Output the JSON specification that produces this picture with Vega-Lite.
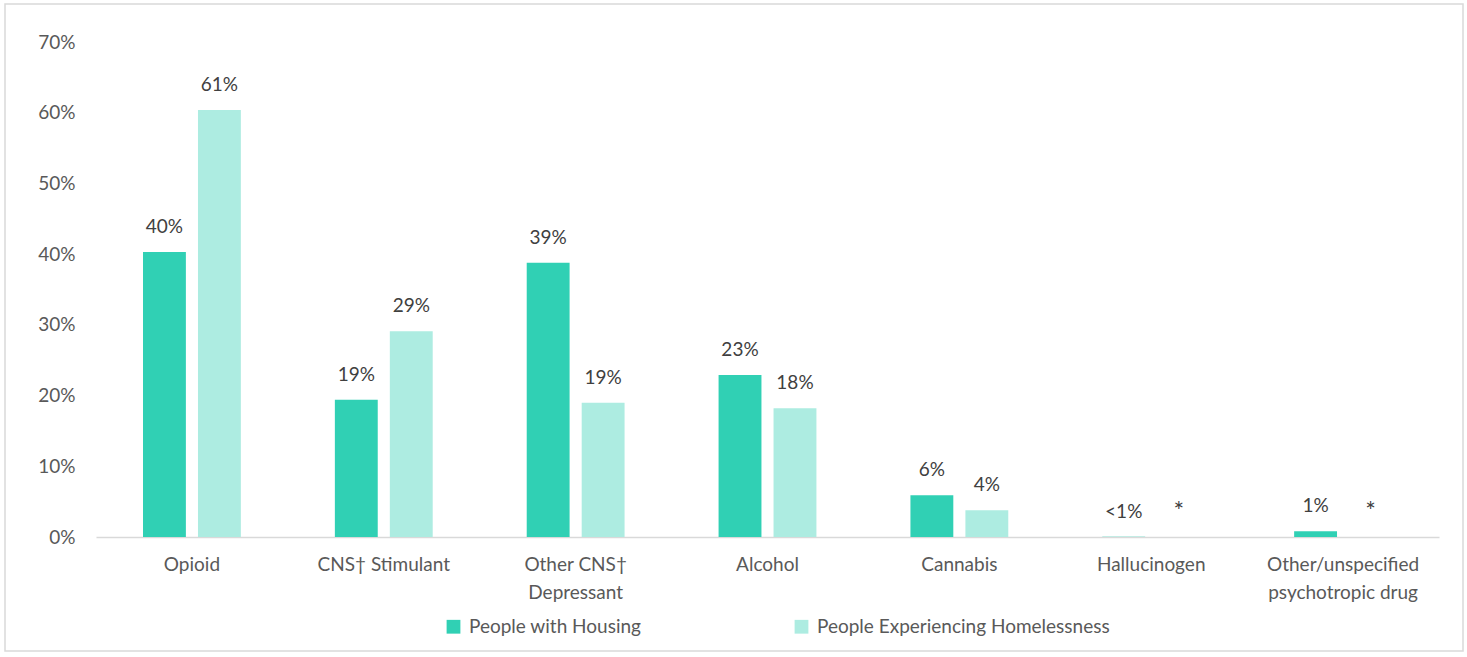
{
  "$schema": "https://vega.github.io/schema/vega-lite/v6.json",
  "width": 1458,
  "height": 647,
  "padding": {"left": 5, "top": 4, "right": 4, "bottom": 6},
  "autosize": {"type": "none"},
  "background": "white",
  "config": {
    "font": "Lato",
    "view": {"stroke": "#d9d9d9", "strokeWidth": 1.5},
    "axis": {"labelFont": "Lato", "labelFontSize": 19, "labelColor": "#595959", "title": null}
  },
  "data": {
    "values": [
      {"category": "Opioid", "group": "People with Housing", "value": 40.3, "label": "40%"},
      {"category": "Opioid", "group": "People Experiencing Homelessness", "value": 60.4, "label": "61%"},
      {"category": "CNS† Stimulant", "group": "People with Housing", "value": 19.4, "label": "19%"},
      {"category": "CNS† Stimulant", "group": "People Experiencing Homelessness", "value": 29.1, "label": "29%"},
      {"category": "Other CNS† Depressant", "group": "People with Housing", "value": 38.8, "label": "39%"},
      {"category": "Other CNS† Depressant", "group": "People Experiencing Homelessness", "value": 19.0, "label": "19%"},
      {"category": "Alcohol", "group": "People with Housing", "value": 22.9, "label": "23%"},
      {"category": "Alcohol", "group": "People Experiencing Homelessness", "value": 18.2, "label": "18%"},
      {"category": "Cannabis", "group": "People with Housing", "value": 5.9, "label": "6%"},
      {"category": "Cannabis", "group": "People Experiencing Homelessness", "value": 3.8, "label": "4%"},
      {"category": "Hallucinogen", "group": "People with Housing", "value": 0.05, "label": "<1%"},
      {"category": "Hallucinogen", "group": "People Experiencing Homelessness", "value": null, "label": "*"},
      {"category": "Other/unspecified psychotropic drug", "group": "People with Housing", "value": 0.8, "label": "1%"},
      {"category": "Other/unspecified psychotropic drug", "group": "People Experiencing Homelessness", "value": null, "label": "*"}
    ]
  },
  "transform": [
    {"calculate": "datum.value == null ? 0 : datum.value", "as": "labelPos"}
  ],
  "encoding": {
    "x": {
      "field": "category",
      "type": "nominal",
      "sort": null,
      "scale": {"range": [91, 1434], "paddingInner": 0.49, "paddingOuter": 0.245},
      "axis": {
        "offset": -114,
        "domainColor": "#d9d9d9",
        "domainWidth": 1.5,
        "ticks": false,
        "labelAngle": 0,
        "labelPadding": 18,
        "labelLineHeight": 28,
        "labelBaseline": "top",
        "labelExpr": "datum.label == 'Other CNS† Depressant' ? ['Other CNS†', 'Depressant'] : datum.label == 'Other/unspecified psychotropic drug' ? ['Other/unspecified', 'psychotropic drug'] : datum.label"
      }
    },
    "xOffset": {
      "field": "group",
      "type": "nominal",
      "sort": ["People with Housing", "People Experiencing Homelessness"],
      "scale": {"paddingInner": 0.22, "paddingOuter": 0}
    }
  },
  "layer": [
    {
      "mark": {"type": "bar"},
      "encoding": {
        "y": {
          "field": "value",
          "type": "quantitative",
          "scale": {"domain": [0, 70], "range": [533, 38], "nice": false},
          "axis": {
            "values": [0, 10, 20, 30, 40, 50, 60, 70],
            "labelExpr": "datum.value + '%'",
            "offset": -88,
            "domain": false,
            "ticks": false,
            "grid": false,
            "labelPadding": 18
          }
        },
        "color": {
          "field": "group",
          "type": "nominal",
          "sort": ["People with Housing", "People Experiencing Homelessness"],
          "scale": {"range": ["#30d0b4", "#adece1"]},
          "legend": {
            "title": null,
            "orient": "none",
            "legendX": 439,
            "legendY": 613,
            "direction": "horizontal",
            "symbolType": "square",
            "symbolSize": 190,
            "symbolStrokeWidth": 0,
            "labelFontSize": 19,
            "labelFont": "Lato",
            "labelColor": "#595959",
            "labelLimit": 0,
            "labelOffset": 6,
            "columnPadding": 150,
            "padding": 0
          }
        }
      }
    },
    {
      "mark": {"type": "text", "baseline": "middle", "dy": -25, "font": "Lato", "color": "#404040"},
      "encoding": {
        "y": {"field": "labelPos", "type": "quantitative"},
        "text": {"field": "label"},
        "size": {"condition": {"test": "datum.label == '*'", "value": 25}, "value": 19}
      }
    }
  ]
}
